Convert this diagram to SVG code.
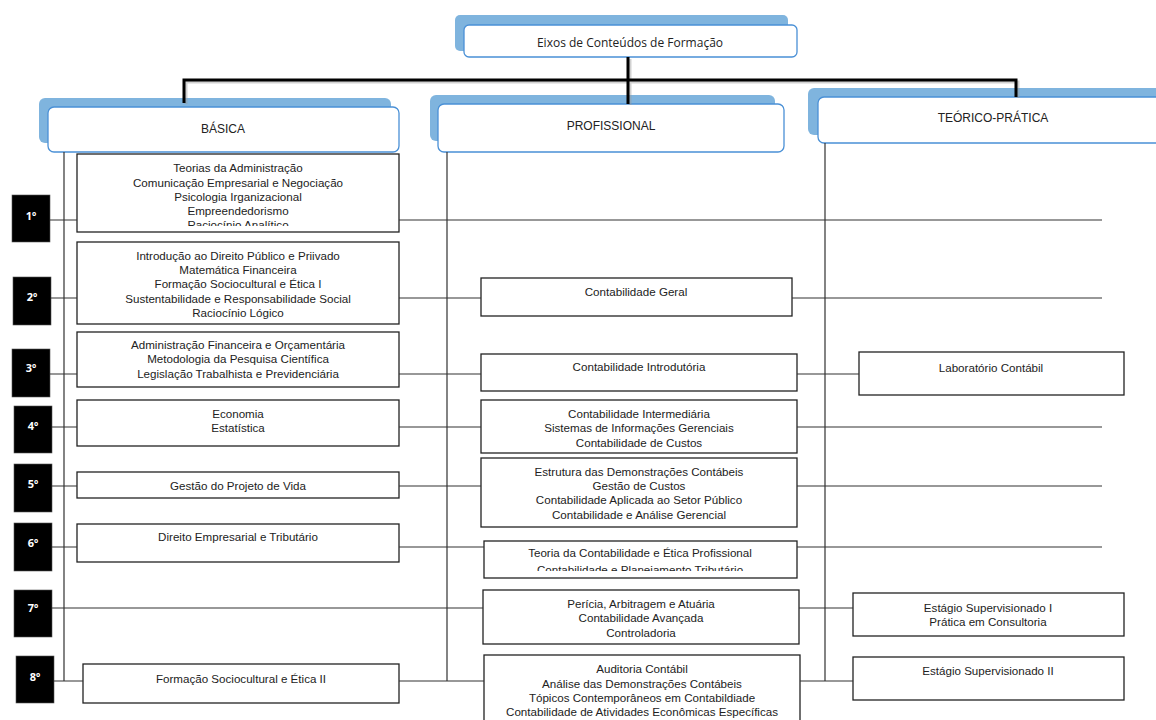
<svg xmlns="http://www.w3.org/2000/svg" width="1156" height="720" viewBox="0 0 1156 720">
<style>
.sh{fill:#7fb4de}
.hd{fill:#fff;stroke:#4a90d6;stroke-width:1.3}
.ht{font-family:"Liberation Sans",Arial,sans-serif;font-size:12px;fill:#222;text-anchor:middle}
.et{font-family:"Open Sans","Liberation Sans",sans-serif;font-size:12px;fill:#222;text-anchor:middle}
.bx{fill:#fff;stroke:#222;stroke-width:1.3}
.t{font-family:"Liberation Sans",Arial,sans-serif;font-size:11.6px;fill:#222;text-anchor:middle}
.sm{fill:#000;stroke:#555;stroke-width:0.6}
.st{font-family:"Noto Sans","DejaVu Sans",sans-serif;font-size:11px;font-weight:bold;fill:#fff;text-anchor:middle}
.ln{stroke:#333;stroke-width:1.2;fill:none}
.thk{stroke:#000;stroke-width:3;fill:none}
.thks{stroke:#999;stroke-width:3;fill:none;opacity:0.45}
</style>
<defs>
<clipPath id="c1"><rect x="78" y="155" width="320" height="71"/></clipPath>
<clipPath id="c6"><rect x="485" y="542" width="311" height="29"/></clipPath>
</defs>
<rect width="1156" height="720" fill="#fff"/>

<g id="eixos">
<rect class="sh" x="455" y="15" width="333" height="36" rx="5"/>
<rect class="hd" x="464" y="25" width="333" height="32" rx="5"/>
<text class="et" x="630" y="47">Eixos de Conteúdos de Formação</text>
</g>
<g id="basica">
<rect class="sh" x="39" y="98" width="352" height="45" rx="6"/>
<rect class="hd" x="48" y="107" width="351" height="45" rx="6"/>
<text class="ht" x="223" y="133">BÁSICA</text>
</g>
<g id="profissional">
<rect class="sh" x="430" y="95" width="345" height="46" rx="6"/>
<rect class="hd" x="438" y="104" width="346" height="48" rx="6"/>
<text class="ht" x="611" y="130">PROFISSIONAL</text>
</g>
<g id="teorico-pratica">
<rect class="sh" x="808" y="88" width="360" height="47" rx="6"/>
<rect class="hd" x="818" y="97" width="360" height="46" rx="6"/>
<text class="ht" x="993" y="122">TEÓRICO-PRÁTICA</text>
</g>

<g id="sem1"><rect class="sm" x="12" y="195" width="38" height="47"/><text class="st" x="31" y="220">1º</text></g>
<g id="sem2"><rect class="sm" x="13" y="277" width="38" height="48"/><text class="st" x="32" y="301">2º</text></g>
<g id="sem3"><rect class="sm" x="12" y="349" width="38" height="48"/><text class="st" x="31" y="372">3º</text></g>
<g id="sem4"><rect class="sm" x="14" y="406" width="38" height="47"/><text class="st" x="33" y="430">4º</text></g>
<g id="sem5"><rect class="sm" x="14" y="464" width="38" height="48"/><text class="st" x="33" y="488">5º</text></g>
<g id="sem6"><rect class="sm" x="14" y="523" width="38" height="48"/><text class="st" x="33" y="547">6º</text></g>
<g id="sem7"><rect class="sm" x="14" y="590" width="38" height="47"/><text class="st" x="33" y="612">7º</text></g>
<g id="sem8"><rect class="sm" x="16" y="656" width="38" height="47"/><text class="st" x="35" y="681">8º</text></g>

<g id="b1">
<rect class="bx" x="77" y="154" width="322" height="78"/>
<g clip-path="url(#c1)">
<text class="t" x="238" y="172">Teorias da Administração</text>
<text class="t" x="238" y="187">Comunicação Empresarial e Negociação</text>
<text class="t" x="238" y="201">Psicologia Irganizacional</text>
<text class="t" x="238" y="215">Empreendedorismo</text>
<text class="t" x="238" y="229">Raciocínio Analítico</text>
</g>
</g>
<g id="b2">
<rect class="bx" x="77" y="242" width="322" height="82"/>
<text class="t" x="238" y="260">Introdução ao Direito Público e Priivado</text>
<text class="t" x="238" y="274">Matemática Financeira</text>
<text class="t" x="238" y="288">Formação Sociocultural e Ética I</text>
<text class="t" x="238" y="303">Sustentabilidade e Responsabilidade Social</text>
<text class="t" x="238" y="317">Raciocínio Lógico</text>
</g>
<g id="b3">
<rect class="bx" x="77" y="332" width="322" height="55"/>
<text class="t" x="238" y="349">Administração Financeira e Orçamentária</text>
<text class="t" x="238" y="363">Metodologia da Pesquisa Científica</text>
<text class="t" x="238" y="378">Legislação Trabalhista e Previdenciária</text>
</g>
<g id="b4">
<rect class="bx" x="77" y="400" width="322" height="46"/>
<text class="t" x="238" y="418">Economia</text>
<text class="t" x="238" y="432">Estatística</text>
</g>
<g id="b5">
<rect class="bx" x="77" y="472" width="322" height="26"/>
<text class="t" x="238" y="490">Gestão do Projeto de Vida</text>
</g>
<g id="b6">
<rect class="bx" x="77" y="524" width="322" height="38"/>
<text class="t" x="238" y="541">Direito Empresarial e Tributário</text>
</g>
<g id="b8">
<rect class="bx" x="83" y="664" width="316" height="39"/>
<text class="t" x="241" y="683">Formação Sociocultural e Ética II</text>
</g>

<g id="p2">
<rect class="bx" x="481" y="278" width="311" height="38"/>
<text class="t" x="636" y="296">Contabilidade Geral</text>
</g>
<g id="p3">
<rect class="bx" x="481" y="354" width="316" height="37"/>
<text class="t" x="639" y="371">Contabilidade Introdutória</text>
</g>
<g id="p4">
<rect class="bx" x="481" y="400" width="316" height="53"/>
<text class="t" x="639" y="418">Contabilidade Intermediária</text>
<text class="t" x="639" y="432">Sistemas de Informações Gerenciais</text>
<text class="t" x="639" y="447">Contabilidade de Custos</text>
</g>
<g id="p5">
<rect class="bx" x="481" y="458" width="316" height="69"/>
<text class="t" x="639" y="476">Estrutura das Demonstrações Contábeis</text>
<text class="t" x="639" y="490">Gestão de Custos</text>
<text class="t" x="639" y="504">Contabilidade Aplicada ao Setor Público</text>
<text class="t" x="639" y="519">Contabilidade e Análise Gerencial</text>
</g>
<g id="p6">
<rect class="bx" x="484" y="541" width="313" height="37"/>
<g clip-path="url(#c6)">
<text class="t" x="640" y="557">Teoria da Contabilidade e Ética Profissional</text>
<text class="t" x="640" y="574">Contabilidade e Planejamento Tributário</text>
</g>
</g>
<g id="p7">
<rect class="bx" x="483" y="590" width="316" height="54"/>
<text class="t" x="641" y="608">Perícia, Arbitragem e Atuária</text>
<text class="t" x="641" y="622">Contabilidade Avançada</text>
<text class="t" x="641" y="637">Controladoria</text>
</g>
<g id="p8">
<rect class="bx" x="484" y="655" width="316" height="75"/>
<text class="t" x="642" y="673">Auditoria Contábil</text>
<text class="t" x="642" y="688">Análise das Demonstrações Contábeis</text>
<text class="t" x="642" y="702">Tópicos Contemporâneos em Contabildiade</text>
<text class="t" x="642" y="716">Contabilidade de Atividades Econômicas Específicas</text>
</g>

<g id="tp3">
<rect class="bx" x="859" y="352" width="265" height="43"/>
<text class="t" x="991" y="372">Laboratório Contábil</text>
</g>
<g id="tp7">
<rect class="bx" x="853" y="593" width="271" height="43"/>
<text class="t" x="988" y="612">Estágio Supervisionado I</text>
<text class="t" x="988" y="626">Prática em Consultoria</text>
</g>
<g id="tp8">
<rect class="bx" x="853" y="657" width="271" height="43"/>
<text class="t" x="988" y="675">Estágio Supervisionado II</text>
</g>

<g id="connectors">
<path class="thks" d="M186,104 V82 H1018 V98 M630,59 V105"/>
<path class="thk" d="M184,103 V80 H1016 V97 M628,57 V104"/>
<path class="ln" d="M64,152 V681 M447,152 V681 M825,143 V681"/>
<path class="ln" d="M50,220 H77 M399,220 H1102"/>
<path class="ln" d="M51,298 H77 M399,298 H481 M792,298 H1102"/>
<path class="ln" d="M50,374 H77 M399,374 H481 M797,374 H859"/>
<path class="ln" d="M52,427 H77 M399,427 H481 M797,427 H1102"/>
<path class="ln" d="M52,486 H77 M399,486 H481 M797,486 H1102"/>
<path class="ln" d="M52,547 H77 M399,547 H484 M797,547 H1102"/>
<path class="ln" d="M52,608 H483 M799,608 H853"/>
<path class="ln" d="M54,681 H83 M399,681 H484 M800,681 H853"/>
</g>
</svg>
